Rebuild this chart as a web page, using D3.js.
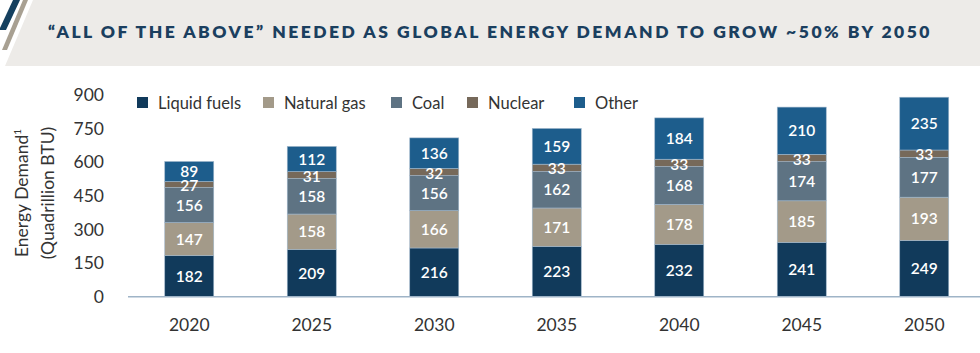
<!DOCTYPE html>
<html><head><meta charset="utf-8">
<script src="https://cdn.jsdelivr.net/npm/d3@7"></script>
<style>
html,body{margin:0;padding:0;background:#fff;}
svg{display:block;font-family:Lato,"Open Sans",sans-serif;}
</style></head>
<body>
<svg id="chart" width="980" height="353"></svg>
<script>
const title = "\u201CALL OF THE ABOVE\u201D NEEDED AS GLOBAL ENERGY DEMAND TO GROW ~50% BY 2050";
const years = ["2020","2025","2030","2035","2040","2045","2050"];
const seriesNames = ["Liquid fuels","Natural gas","Coal","Nuclear","Other"];
const liquidFuels = [182,209,216,223,232,241,249];
const naturalGas  = [147,158,166,171,178,185,193];
const coal        = [156,158,156,162,168,174,177];
const nuclear     = [27,31,32,33,33,33,33];
const other       = [89,112,136,159,184,210,235];
const yTicks = [0,150,300,450,600,750,900];
const colors = ["#113a5b","#a39a89","#5e7383","#76695a","#1d5d8c"];

const seriesValues = [liquidFuels, naturalGas, coal, nuclear, other];
const rows = years.map((y,i)=>{const r={year:y}; seriesNames.forEach((s,j)=>r[s]=seriesValues[j][i]); return r;});
const stacked = d3.stack().keys(seriesNames)(rows);

const svg = d3.select("#chart");

// header band
svg.append("path").attr("d","M33,0 L980,0 L980,66 L5,66 Z").attr("fill","#edebe8");
svg.append("path").attr("d","M13,0 L20,0 L6,30 L0,30 L0,28 Z").attr("fill","#15405f");
svg.append("path").attr("d","M23,0 L28,0 L7,50 L2,50 Z").attr("fill","#a8a092");

const t = svg.append("text").attr("x",48).attr("y",38)
  .attr("fill","#1b3f5f").attr("font-size",17.5).attr("font-weight",800)
  .attr("letter-spacing",0.5).text(title);
t.attr("textLength",882).attr("lengthAdjust","spacing");

const x = d3.scaleBand().domain(years).range([128,985.5]).paddingInner(0.6).paddingOuter(0.3);
const y = d3.scaleLinear().domain([0,900]).range([296.5,94.3]);

// y ticks
const yAxis = d3.axisLeft(y).tickValues(yTicks).tickSize(0).tickPadding(0);
const gy = svg.append("g").attr("transform","translate(104,0)").call(yAxis);
gy.select(".domain").remove();
gy.selectAll("text").attr("font-size",17.5).attr("fill","#333").attr("font-family","Lato, sans-serif").attr("dy","0.35em");

// y title
const yt = svg.append("text").attr("transform","translate(28,193) rotate(-90)")
  .attr("text-anchor","middle").attr("font-size",17.5).attr("fill","#333");
yt.append("tspan").text("Energy Demand");
yt.append("tspan").attr("font-size",10).attr("dy",-7).text("1");
svg.append("text").attr("transform","translate(54,193) rotate(-90)")
  .attr("text-anchor","middle").attr("font-size",17.5).attr("fill","#333").text("(Quadrillion BTU)");

// bars
const layers = svg.append("g").selectAll("g").data(stacked).join("g").attr("fill",(d,i)=>colors[i]);
layers.selectAll("rect").data(d=>d).join("rect")
  .attr("x",d=>x(d.data.year)).attr("width",x.bandwidth())
  .attr("y",d=>y(d[1])).attr("height",d=>y(d[0])-y(d[1]))
  .attr("stroke","#9fb6cb").attr("stroke-width",0.6);

// labels
const lab = svg.append("g");
stacked.forEach((s,i)=>{
  lab.selectAll(null).data(s).join("text")
    .attr("x",d=>x(d.data.year)+x.bandwidth()/2)
    .attr("y",d=>(y(d[0])+y(d[1]))/2 + (i===3?1:0))
    .attr("dy","0.36em").attr("text-anchor","middle")
    .attr("fill","#fff").attr("font-size",15.5).attr("font-weight",600)
    .text(d=>d[1]-d[0]);
});

// baseline
svg.append("line").attr("x1",128).attr("x2",980).attr("y1",296.8).attr("y2",296.8)
  .attr("stroke","#9fb4c7").attr("stroke-width",1.5);

// x axis labels
const xAxis = d3.axisBottom(x).tickSize(0).tickPadding(0);
const gx = svg.append("g").attr("transform","translate(0,325)").call(xAxis);
gx.select(".domain").remove();
gx.selectAll("text").attr("font-size",17.5).attr("fill","#333").attr("font-family","Lato, sans-serif").attr("dy","0.35em");

// legend
const legX = [137,263,391,467,574];
const leg = svg.append("g").selectAll("g").data(seriesNames).join("g")
  .attr("transform",(d,i)=>`translate(${legX[i]},97)`);
leg.append("rect").attr("width",11).attr("height",11).attr("fill",(d,i)=>colors[i]);
leg.append("text").attr("x",21).attr("y",6).attr("dy","0.35em")
  .attr("font-size",16.5).attr("fill","#333").text(d=>d);
</script>
</body></html>
